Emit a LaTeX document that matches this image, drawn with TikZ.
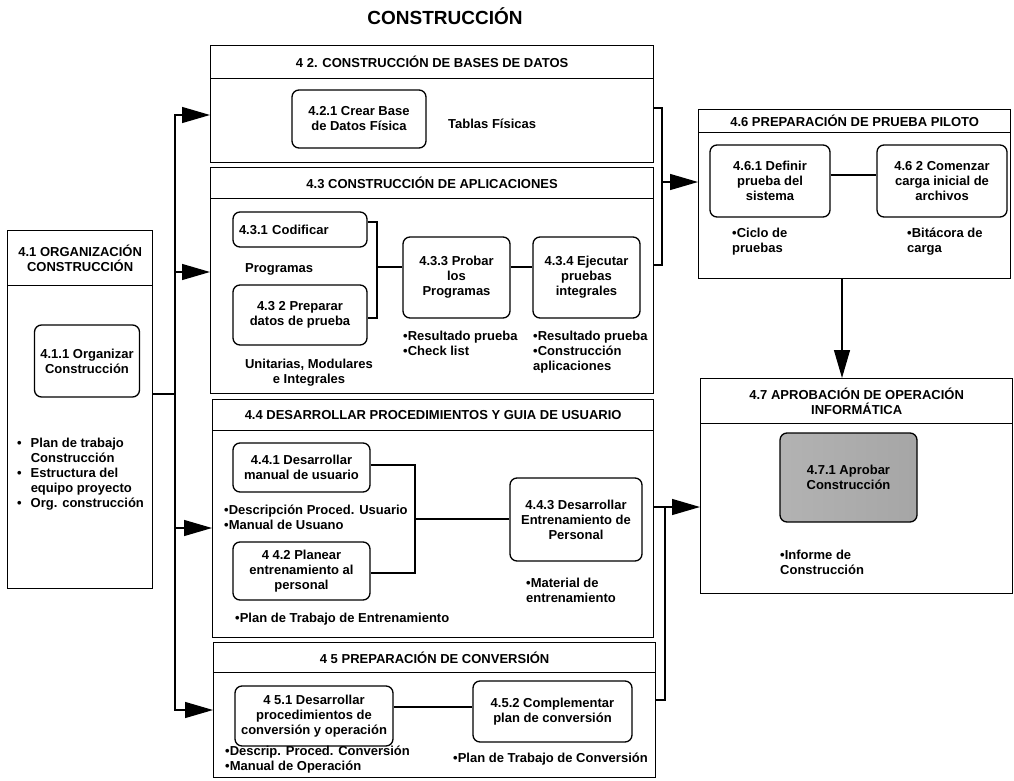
\documentclass[tikz,border=0pt]{standalone}
\usepackage{fontspec}
\setmainfont{Liberation Sans}
\usetikzlibrary{arrows.meta}

\tikzset{
  stage/.style={draw, line width=1.3pt, anchor=north west, inner sep=0pt},
  head/.style={draw, line width=1.3pt, anchor=north, inner sep=0pt, align=center},
  task/.style={draw, line width=1.3pt, rounded corners=7pt, align=center, inner sep=1pt},
  note/.style={anchor=north west, inner sep=0pt, align=left},
  link/.style={line width=1.3pt},
  flow/.style={line width=1.3pt, -{Triangle[length=28pt,width=16pt]}}
}

\begin{document}
\begin{tikzpicture}[x=1pt, y=-1pt, font=\bfseries\fontsize{13}{15}\selectfont]
  \useasboundingbox (0,0) rectangle (1014,781);
  \node[font=\bfseries\fontsize{19}{22}\selectfont] (title) at (445,16) {CONSTRUCCIÓN};

  % 4.1 organizacion
  \node[stage, minimum width=145, minimum height=358] (p41) at (7,230) {};
  \node[head, minimum width=145, minimum height=55] (h41) at (p41.north) {4.1 ORGANIZACIÓN\\CONSTRUCCIÓN};
  \node[task, minimum width=105, minimum height=72] (c411) at (87,361) {4.1.1 Organizar\\Construcción};
  \node[note] (n411) at (17,437) {\begin{tabular}{@{}l@{\hspace{9pt}}l@{}}
      • & Plan de trabajo\\ & Construcción\\
      • & Estructura del\\ & equipo proyecto\\
      • & Org. construcción\end{tabular}};

  % 4.2 bases de datos
  \node[stage, minimum width=443, minimum height=117] (p42) at (210,45) {};
  \node[head, minimum width=443, minimum height=33] (h42) at (p42.north) {4 2. CONSTRUCCIÓN DE BASES DE DATOS};
  \node[task, minimum width=134, minimum height=58] (c421) at (359,119) {4.2.1 Crear Base\\de Datos Física};
  \node[note] (n421) at (448,119) {Tablas Físicas};

  % 4.3 aplicaciones
  \node[stage, minimum width=443, minimum height=226] (p43) at (210,167) {};
  \node[head, minimum width=443, minimum height=31] (h43) at (p43.north) {4.3 CONSTRUCCIÓN DE APLICACIONES};
  \node[task, minimum width=134, minimum height=35, text width=122, align=left] (c431) at (300,229.5) {4.3.1 Codificar};
  \node[note] (n431) at (245,263) {Programas};
  \node[task, minimum width=134, minimum height=60] (c432) at (300,315) {4.3 2 Preparar\\datos de prueba};
  \node[note, anchor=north, align=center] (n432) at (309,359) {Unitarias, Modulares\\e Integrales};
  \node[task, minimum width=107, minimum height=81] (c433) at (456.5,277.5) {4.3.3 Probar\\los\\Programas};
  \node[note] (n433) at (403,331) {•Resultado prueba\\•Check list};
  \node[task, minimum width=107, minimum height=81] (c434) at (586.5,277.5) {4.3.4 Ejecutar\\pruebas\\integrales};
  \node[note] (n434) at (533,331) {•Resultado prueba\\•Construcción\\aplicaciones};

  % 4.4 procedimientos y guia
  \node[stage, minimum width=441, minimum height=238] (p44) at (212,399) {};
  \node[head, minimum width=441, minimum height=31] (h44) at (p44.north) {4.4 DESARROLLAR PROCEDIMIENTOS Y GUIA DE USUARIO};
  \node[task, minimum width=137, minimum height=49] (c441) at (301.5,467.5) {4.4.1 Desarrollar\\manual de usuario};
  \node[note] (n441) at (224,505) {•Descripción Proced. Usuario\\•Manual de Usuano};
  \node[task, minimum width=137, minimum height=58] (c442) at (301.5,571) {4 4.2 Planear\\entrenamiento al\\personal};
  \node[note] (n442) at (235,613) {•Plan de Trabajo de Entrenamiento};
  \node[task, minimum width=132, minimum height=83] (c443) at (576,519.5) {4.4.3 Desarrollar\\Entrenamiento de\\Personal};
  \node[note] (n443) at (526,578) {•Material de\\entrenamiento};

  % 4.5 conversion
  \node[stage, minimum width=442, minimum height=135] (p45) at (213,642) {};
  \node[head, minimum width=442, minimum height=30] (h45) at (p45.north) {4 5 PREPARACIÓN DE CONVERSIÓN};
  \node[task, minimum width=158, minimum height=60] (c451) at (314,716) {4 5.1 Desarrollar\\procedimientos de\\conversión y operación};
  \node[task, minimum width=159, minimum height=61] (c452) at (552.5,711.5) {4.5.2 Complementar\\plan de conversión};
  \node[note] (n451) at (225,746) {•Descrip. Proced. Conversión\\•Manual de Operación};
  \node[note] (n452) at (453,753) {•Plan de Trabajo de Conversión};

  % 4.6 prueba piloto
  \node[stage, minimum width=312, minimum height=169] (p46) at (698,109) {};
  \node[head, minimum width=312, minimum height=23] (h46) at (p46.north) {4.6 PREPARACIÓN DE PRUEBA PILOTO};
  \node[task, minimum width=120, minimum height=72] (c461) at (770,181) {4.6.1 Definir\\prueba del\\sistema};
  \node[task, minimum width=130, minimum height=72] (c462) at (942,181) {4.6 2 Comenzar\\carga inicial de\\archivos};
  \node[note] (n461) at (732,228) {•Ciclo de\\pruebas};
  \node[note] (n462) at (907,228) {•Bitácora de\\carga};

  % 4.7 aprobacion
  \node[stage, minimum width=312, minimum height=215] (p47) at (700,378) {};
  \node[head, minimum width=312, minimum height=45] (h47) at (p47.north) {4.7 APROBACIÓN DE OPERACIÓN\\INFORMÁTICA};
  \node[task, minimum width=137, minimum height=89, left color=gray!60, middle color=gray!20, right color=gray!70] (c471) at (848.5,477.5) {4.7.1 Aprobar\\Construcción};
  \node[note] (n471) at (780,550) {•Informe de\\Construcción};

  % links inside the stages
  \coordinate (brk43) at (377,267);
  \draw[link] (c431.east |- 0,222) -| (brk43) |- (c432.east |- 0,318);
  \draw[link] (brk43) -- (c433.west |- brk43);
  \draw[link] (c433.east |- brk43) -- (c434.west |- brk43);
  \coordinate (brk44) at (415,519);
  \draw[link] (c441.east |- 0,465) -| (brk44) |- (c442.east |- 0,573);
  \draw[link] (brk44) -- (c443.west |- brk44);
  \draw[link] (c451.east |- 0,707) -- (c452.west |- 0,707);
  \draw[link] (c461.east |- 0,175) -- (c462.west |- 0,175);

  % flow between stages
  \coordinate (fork) at (175,394);
  \draw[link] (p41.east |- fork) -- (fork);
  \draw[flow] (fork) |- (p42.west |- 0,115);
  \draw[flow] (fork) |- (p43.west |- 0,272);
  \draw[flow] (fork) |- (p44.west |- 0,528);
  \draw[flow] (fork) |- (p45.west |- 0,710);
  \coordinate (joinA) at (662,182);
  \draw[link] (p42.east |- 0,108) -| (joinA);
  \draw[link] (p43.east |- 0,265) -| (joinA);
  \draw[flow] (joinA) -- (p46.west |- joinA);
  \coordinate (drop) at (842,0);
  \draw[flow] (p46.south -| drop) -- (p47.north -| drop);
  \coordinate (joinB) at (665,507);
  \draw[flow] (p44.east |- joinB) -- (p47.west |- joinB);
  \draw[link] (p45.east |- 0,700) -| (joinB);
\end{tikzpicture}
\end{document}
